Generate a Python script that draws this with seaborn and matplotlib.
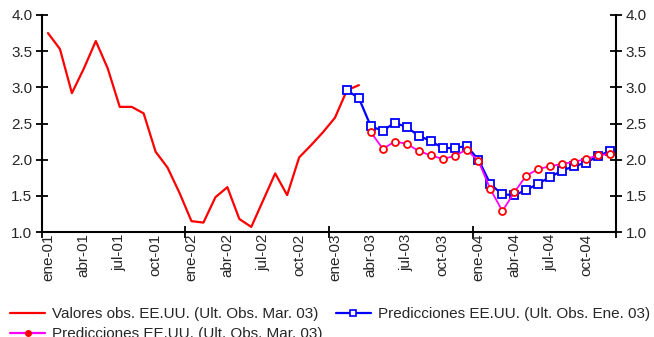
import numpy as np
import pandas as pd
import matplotlib
matplotlib.use("Agg")
import matplotlib.pyplot as plt
from matplotlib.lines import Line2D
import seaborn as sns

# ---------------- data ----------------
months = ["ene", "feb", "mar", "abr", "may", "jun", "jul", "ago", "sep", "oct", "nov", "dic"]
years = ["01", "02", "03", "04"]
periods = [f"{m}-{y}" for y in years for m in months]  # ene-01 .. dic-04

# Observed values, ene-01 .. mar-03
obs_values = [3.75, 3.53, 2.92, 3.26, 3.64, 3.26, 2.73, 2.73, 2.64, 2.11, 1.89, 1.54,
              1.15, 1.13, 1.48, 1.62, 1.18, 1.07, 1.44, 1.81, 1.51, 2.03, 2.20, 2.38,
              2.58, 2.96, 3.03]
# Predictions, last obs. Ene 03: feb-03 .. dic-04
pred_ene03 = [2.96, 2.85, 2.46, 2.40, 2.51, 2.45, 2.33, 2.26, 2.16, 2.16, 2.19, 2.00,
              1.66, 1.52, 1.51, 1.58, 1.67, 1.76, 1.85, 1.91, 1.96, 2.05, 2.12]
# Predictions, last obs. Mar 03: abr-03 .. dic-04
pred_mar03 = [2.38, 2.15, 2.25, 2.22, 2.12, 2.06, 2.01, 2.05, 2.14, 1.98, 1.59, 1.29,
              1.55, 1.78, 1.87, 1.91, 1.94, 1.97, 2.01, 2.06, 2.08]

label_obs = "Valores obs. EE.UU. (Ult. Obs. Mar. 03)"
label_ene = "Predicciones EE.UU. (Ult. Obs. Ene. 03)"
label_mar = "Predicciones EE.UU. (Ult. Obs. Mar. 03)"

idx = np.arange(len(periods))
df_obs = pd.DataFrame({"t": idx[:len(obs_values)], "v": obs_values})
start_ene = periods.index("feb-03")
start_mar = periods.index("abr-03")
df_ene = pd.DataFrame({"t": idx[start_ene:start_ene + len(pred_ene03)], "v": pred_ene03})
df_mar = pd.DataFrame({"t": idx[start_mar:start_mar + len(pred_mar03)], "v": pred_mar03})

# ---------------- style ----------------
sns.set_style("white")
plt.rcParams["font.family"] = ["Liberation Sans", "DejaVu Sans"]

W, H = 654, 337
fig = plt.figure(figsize=(W / 100, H / 100), dpi=100)
ax = fig.add_axes([42 / W, 1 - 232 / H, (616 - 42) / W, (232 - 15) / H])

sns.lineplot(data=df_obs, x="t", y="v", color="#ff0000", linewidth=1.6, ax=ax)
sns.lineplot(data=df_ene, x="t", y="v", color="#0000ff", linewidth=1.6, marker="s",
             markersize=6.2, markerfacecolor="white", markeredgecolor="#0000ff",
             markeredgewidth=1.3, ax=ax)
sns.lineplot(data=df_mar, x="t", y="v", color="#ff00ff", linewidth=1.3, marker="o",
             markersize=5, markerfacecolor="white", markeredgecolor="#ff0000",
             markeredgewidth=1.3, ax=ax)

ax.set_xlim(-0.5, len(periods) - 0.5)
ax.set_ylim(1.0, 4.0)
yt = np.arange(1.0, 4.01, 0.5)
ax.set_yticks(yt, labels=[f"{v:.1f}" for v in yt])
ax.set_xticks(np.arange(-0.5, len(periods), 12))
ax.set_xticks(idx[::3], labels=periods[::3], minor=True)
ax.set_xlabel("")
ax.set_ylabel("")

ax.tick_params(axis="x", which="major", direction="inout", length=8, width=1.3,
               color="black", labelbottom=False, bottom=True)
ax.tick_params(axis="x", which="minor", length=0, labelsize=11, rotation=90, pad=1)
ax.tick_params(axis="y", which="major", direction="inout", length=8, width=1.3,
               color="black", left=True, right=True, labelleft=True, labelright=True,
               labelsize=11, pad=3)

for s in ["left", "right", "bottom"]:
    ax.spines[s].set_visible(True)
    ax.spines[s].set_color("black")
    ax.spines[s].set_linewidth(1.5)
ax.spines["top"].set_visible(False)
ax.grid(False)

handles = [
    Line2D([], [], color="#ff0000", linewidth=1.6),
    Line2D([], [], color="#ff00ff", linewidth=1.6, marker="o", markersize=4,
           markerfacecolor="#ff0000", markeredgecolor="#ff0000"),
    Line2D([], [], color="#0000ff", linewidth=1.6, marker="s", markersize=5,
           markerfacecolor="white", markeredgecolor="#0000ff", markeredgewidth=1.2),
]
labels = [label_obs, label_mar, label_ene]
fig.legend(handles, labels, loc="upper left", bbox_to_anchor=(10 / W, 1 - 307 / H),
           ncol=2, frameon=False, fontsize=11, handlelength=2.3, handletextpad=0.45,
           columnspacing=0.85, labelspacing=0.4, borderpad=0, borderaxespad=0)

fig.savefig("out.png", dpi=100)
